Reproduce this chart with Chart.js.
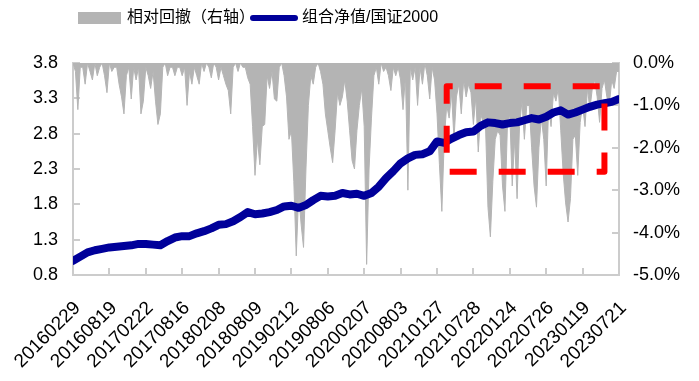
<!DOCTYPE html>
<html><head><meta charset="utf-8">
<script src="https://cdn.jsdelivr.net/npm/chart.js@4/dist/chart.umd.min.js"></script>
<style>html,body{margin:0;padding:0;background:#fff;}#wrap{width:699px;height:381px;}</style>
</head><body><div id="wrap"><canvas id="c" width="699" height="381"></canvas></div>
<script>
// ---- data ----
const tickLabels = ['20160229','20160819','20170222','20170816','20180208','20180809','20190212','20190806','20200207','20200803','20210127','20210728','20220124','20220726','20230119','20230721'];
const stepsPerLabel = 15;   // drawdown samples between two tick labels
const navStep = 3;          // nav series sampled every 3 drawdown samples
const leftTicks = [0.8, 1.3, 1.8, 2.3, 2.8, 3.3, 3.8];
const rightTicks = [0, -1, -2, -3, -4, -5];
const navValues = [1.00,1.06,1.12,1.15,1.17,1.19,1.20,1.21,1.22,1.24,1.24,1.23,1.22,1.28,1.33,1.35,1.35,1.39,1.42,1.46,
  1.51,1.52,1.56,1.62,1.69,1.66,1.67,1.69,1.72,1.77,1.78,1.75,1.79,1.86,1.92,1.91,1.92,1.96,1.94,1.95,
  1.92,1.96,2.05,2.17,2.27,2.38,2.45,2.50,2.51,2.55,2.69,2.67,2.73,2.78,2.82,2.83,2.91,2.96,2.95,2.93,
  2.95,2.96,2.99,3.02,3.00,3.04,3.10,3.13,3.07,3.10,3.14,3.18,3.21,3.23,3.25,3.29];
const drawdownValues = [
  0,-0.2,-1.1,-0.1,-0.1,-0.5,0,-0.2,-0.4,0,-0.3,-0.1,0,-0.3,-0.7,
  0,-0.2,-0.1,-0.1,-0.5,-0.8,-1.2,-0.3,-0.1,-0.85,-0.1,-0.4,-0.1,-1.2,-0.9,
  -0.1,-0.3,-0.6,-0.2,-0.9,-1.45,-1.2,-0.1,0,-0.3,-0.1,-0.1,-0.3,-0.1,-0.1,
  -0.3,-0.1,-1.0,-0.2,-0.5,-0.1,-0.3,-0.5,0,-0.2,0,-0.1,-0.35,0,-0.1,
  -0.4,-0.1,-0.3,-0.5,-0.65,-1.2,-0.1,0,-0.2,0,-0.1,-0.1,-0.35,-0.5,-1.5,
  -2.65,-1.8,-2.4,-1.5,-1.45,-0.3,-0.6,-0.2,-0.85,-0.9,-0.1,0,-0.3,-0.8,-1.8,
  -1.6,-2.8,-4.55,-3.1,-3.8,-4.35,-2.5,-1.0,-0.3,-0.5,-0.1,0,-0.2,-0.5,-1.2,
  -1.6,-2.0,-2.35,-1.6,-0.7,-1.0,-0.8,-0.4,-0.9,-1.6,-2.3,-2.5,-1.6,-1.0,-0.6,
  -1.5,-4.75,-2.5,-1.3,-0.3,-0.1,-0.5,0,-0.2,-0.1,-0.3,-0.65,-0.1,-0.3,-0.1,
  -0.4,-1.1,-0.3,-3.0,-0.1,-0.4,-0.1,-1.0,-0.1,-0.5,0,-0.3,-0.85,-0.1,-0.4,
  -1.2,-2.4,-3.5,-1.8,-1.0,-1.3,-0.7,-1.8,-0.8,-0.5,-1.2,-0.4,-0.8,-0.5,-0.7,
  -1.45,-0.8,-2.1,-1.2,-1.4,-1.5,-3.4,-4.1,-2.8,-1.8,-1.6,-1.7,-2.9,-3.5,-1.5,
  -1.2,-2.9,-1.8,-3.2,-1.5,-0.9,-1.8,-1.0,-1.0,-2.0,-2.9,-3.4,-2.0,-1.3,-1.8,
  -2.9,-1.0,-1.5,-0.7,-0.9,-0.6,-1.6,-2.6,-3.3,-3.75,-3.2,-1.8,-1.7,-2.65,-1.4,
  -1.0,-1.5,-0.6,-1.1,-0.6,-0.4,-0.8,-1.4,-0.6,-0.4,-0.8,-1.0,-0.4,-0.6,-0.2,
  -0.2];
const highlight = {fromIndex: 154, toIndex: 219, high: 3.47, low: 2.26};
const seriesNames = ['相对回撤（右轴）', '组合净值/国证2000'];

// ---- chart ----
const FONT = "'Liberation Sans', 'Noto Sans CJK SC', sans-serif";
const AXIS = '#cccccc';
const NAVY = '#00009a';
const ddPoints = drawdownValues.map((v, i) => ({x: i, y: v}));
const navPoints = navValues.map((v, i) => ({x: i * navStep, y: v}));
const xMax = (tickLabels.length - 1) * stepsPerLabel;

const tickMarks = {
  id: 'tickMarks',
  beforeDatasetsDraw(chart) {
    const {ctx, chartArea: a, scales} = chart;
    ctx.save();
    ctx.strokeStyle = AXIS; ctx.lineWidth = 2;
    ctx.beginPath();
    scales.x.ticks.forEach(t => { const px = Math.round(scales.x.getPixelForValue(t.value)); ctx.moveTo(px, a.bottom); ctx.lineTo(px, a.bottom - 7); });
    scales.y.ticks.forEach(t => { const py = Math.round(scales.y.getPixelForValue(t.value)); ctx.moveTo(a.left, py); ctx.lineTo(a.left + 7, py); });
    scales.y1.ticks.forEach(t => { const py = Math.round(scales.y1.getPixelForValue(t.value)); ctx.moveTo(a.right, py); ctx.lineTo(a.right - 7, py); });
    ctx.stroke();
    ctx.restore();
  },
  afterDraw(chart) {
    // rotated category labels under the x axis
    const {ctx, chartArea: a, scales} = chart;
    ctx.save();
    ctx.font = '19px ' + FONT; ctx.fillStyle = '#000';
    ctx.textAlign = 'right'; ctx.textBaseline = 'middle';
    scales.x.ticks.forEach((t, i) => {
      const px = scales.x.getPixelForValue(t.value);
      ctx.save();
      ctx.translate(px + 4.5, a.bottom + 30);
      ctx.rotate(-Math.PI / 4);
      ctx.fillText(tickLabels[i], 0, 0);
      ctx.restore();
    });
    ctx.restore();
  }
};
const boxPlugin = {
  id: 'boxPlugin',
  afterDatasetsDraw(chart) {
    const {ctx, scales} = chart;
    const x0 = scales.x.getPixelForValue(highlight.fromIndex), x1 = scales.x.getPixelForValue(highlight.toIndex);
    const y0 = scales.y.getPixelForValue(highlight.high), y1 = scales.y.getPixelForValue(highlight.low);
    ctx.save();
    ctx.strokeStyle = '#ff0000'; ctx.lineWidth = 6; ctx.lineJoin = 'round';
    ctx.setLineDash([27, 22]); ctx.lineDashOffset = 21;
    ctx.beginPath();
    ctx.moveTo(x0, y0); ctx.lineTo(x1, y0); ctx.lineTo(x1, y1); ctx.lineTo(x0, y1); ctx.closePath();
    ctx.stroke();
    ctx.restore();
  }
};
const legendPlugin = {
  id: 'legendPlugin',
  afterDraw(chart) {
    const ctx = chart.ctx;
    ctx.save();
    ctx.fillStyle = '#b4b4b4';
    ctx.fillRect(78, 12, 43, 12);
    ctx.font = '16px ' + FONT; ctx.fillStyle = '#000'; ctx.textBaseline = 'middle'; ctx.textAlign = 'left';
    ctx.fillText(seriesNames[0], 127, 18);
    ctx.strokeStyle = NAVY; ctx.lineWidth = 6; ctx.lineCap = 'round';
    ctx.beginPath(); ctx.moveTo(253, 18); ctx.lineTo(295, 18); ctx.stroke();
    ctx.fillText(seriesNames[1], 302, 18);
    ctx.restore();
  }
};

new Chart(document.getElementById('c'), {
  data: {
    datasets: [
      {type: 'line', label: seriesNames[0], data: ddPoints, yAxisID: 'y1', xAxisID: 'x',
       borderColor: '#b4b4b4', borderWidth: 1, backgroundColor: '#b4b4b4', fill: {value: 0},
       pointRadius: 0, tension: 0, order: 2},
      {type: 'line', label: seriesNames[1], data: navPoints, yAxisID: 'y', xAxisID: 'x',
       borderColor: NAVY, borderWidth: 8, fill: false, pointRadius: 0, tension: 0,
       borderJoinStyle: 'round', borderCapStyle: 'round', order: 1}
    ]
  },
  options: {
    responsive: false, animation: false, events: [],
    layout: {padding: {top: 63, left: 0, right: 0, bottom: 0}},
    plugins: {legend: {display: false}, tooltip: {enabled: false}},
    scales: {
      x: {type: 'linear', position: 'bottom', min: 0, max: xMax,
          grid: {display: false, drawTicks: false},
          border: {display: true, color: AXIS, width: 2},
          afterBuildTicks: s => { s.ticks = tickLabels.map((_, i) => ({value: i * stepsPerLabel})); },
          ticks: {display: false},
          afterFit: s => { s.height = 106; }},
      y: {type: 'linear', position: 'left', min: 0.8, max: 3.8,
          grid: {display: false, drawTicks: false},
          border: {display: true, color: AXIS, width: 2},
          afterBuildTicks: s => { s.ticks = leftTicks.map(v => ({value: v})); },
          ticks: {padding: 15, color: '#000', font: {size: 18, family: FONT}, callback: v => v.toFixed(1)},
          afterFit: s => { s.width = 73; }},
      y1: {type: 'linear', position: 'right', min: -5, max: 0,
          grid: {display: false, drawTicks: false},
          border: {display: true, color: AXIS, width: 2},
          afterBuildTicks: s => { s.ticks = rightTicks.map(v => ({value: v})); },
          ticks: {padding: 14, color: '#000', font: {size: 18, family: FONT}, callback: v => v.toFixed(1) + '%'},
          afterFit: s => { s.width = 80; }}
    }
  },
  plugins: [tickMarks, boxPlugin, legendPlugin]
});
</script></body></html>
